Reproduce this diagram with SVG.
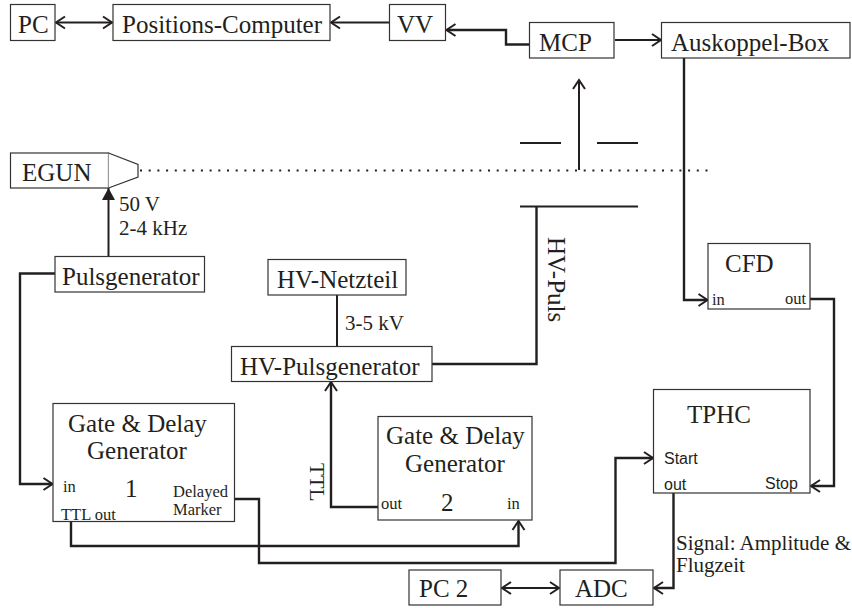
<svg xmlns="http://www.w3.org/2000/svg" width="852" height="608" viewBox="0 0 852 608">
<style>
text{font-family:"Liberation Serif","Times New Roman",serif;fill:#231f20;font-size:25px}
.b{fill:#fff;stroke:#333;stroke-width:1.2}
.s{font-size:16.500px}
.m{font-size:21px}
.a{font-family:"Liberation Sans",Arial,sans-serif;font-size:16px}
.c{fill:none;stroke:#231f20;stroke-width:2}
.t{fill:none;stroke:#231f20;stroke-width:2.4}
.d{fill:none;stroke:#231f20;stroke-width:2;stroke-dasharray:2 6.700}
</style>
<defs>
<marker id="o" markerUnits="userSpaceOnUse" markerWidth="14" markerHeight="16" refX="11" refY="7" orient="auto-start-reverse" viewBox="0 0 14 14"><path d="M2 1 L11 7 L2 13" fill="none" stroke="#231f20" stroke-width="2"/></marker>
<marker id="f" markerUnits="userSpaceOnUse" markerWidth="14" markerHeight="14" refX="12" refY="6.500" orient="auto" viewBox="0 0 14 13"><path d="M0 0 L12 6.500 L0 13 Z" fill="#231f20"/></marker>
</defs>
<g id="connectors">
<path class="c" d="M56 22.500H112" marker-start="url(#o)" marker-end="url(#o)"/>
<path class="c" d="M389 22.500H331" marker-end="url(#o)"/>
<path class="t" d="M529 44.500H506V30H446.500" marker-end="url(#o)"/>
<path class="c" d="M615 40H661" marker-end="url(#o)"/>
<path class="c" d="M579 170V80" marker-end="url(#o)"/>
<path class="d" d="M140 170.500H710"/>
<path class="c" d="M520 143H561M597 143H638M520 206.500H638"/>
<path class="c" d="M108.500 256V188" marker-end="url(#f)"/>
<path class="t" d="M55 273.500H20V484H52.500" marker-end="url(#o)"/>
<path class="c" d="M337 295V346"/>
<path class="t" d="M432 364H536.500V206.500"/>
<path class="t" d="M378 507H331V382" marker-end="url(#o)"/>
<path class="t" d="M71 522V546H518.500V521" marker-end="url(#o)"/>
<path class="t" d="M235 499H259V563H615.500V458H653" marker-end="url(#o)"/>
<path class="t" d="M684 58V300H707.500" marker-end="url(#o)"/>
<path class="t" d="M810 299H834V486H811" marker-end="url(#o)"/>
<path class="t" d="M673.500 493V588H654" marker-end="url(#o)"/>
<path class="c" d="M502 588H559" marker-start="url(#o)" marker-end="url(#o)"/>
</g>
<g id="pc"><rect class="b" x="10.500" y="4.500" width="44.500" height="36"/><text x="18" y="33">PC</text></g>
<g id="positions-computer"><rect class="b" x="113" y="4.500" width="217" height="36"/><text x="122" y="33">Positions-Computer</text></g>
<g id="vv"><rect class="b" x="389.500" y="4.500" width="56" height="36"/><text x="397" y="33">VV</text></g>
<g id="mcp"><rect class="b" x="529.500" y="22.500" width="84.500" height="35.500"/><text x="539" y="51">MCP</text></g>
<g id="auskoppel-box"><rect class="b" x="661.500" y="22.500" width="188.500" height="35.500"/><text x="671" y="51">Auskoppel-Box</text></g>
<g id="egun"><rect class="b" x="10.500" y="153" width="98" height="35"/><path class="b" d="M108.500 153L138 164.500V177L108.500 188"/><text x="22" y="181">EGUN</text></g>
<g id="pulsgenerator"><rect class="b" x="55" y="256.500" width="149.500" height="35.500"/><text x="62" y="285">Pulsgenerator</text></g>
<g id="hv-netzteil"><rect class="b" x="268" y="259.500" width="138" height="35.500"/><text x="277" y="288">HV-Netzteil</text></g>
<g id="hv-pulsgenerator"><rect class="b" x="231.500" y="346.500" width="200.500" height="35"/><text x="240" y="375">HV-Pulsgenerator</text></g>
<g id="gate-delay-1"><rect class="b" x="53" y="403.500" width="181.500" height="118"/>
<text x="68" y="432">Gate &amp; Delay</text><text x="87" y="459">Generator</text>
<text class="s" x="63" y="492">in</text><text x="125" y="497">1</text>
<text class="s" x="173" y="497">Delayed</text><text class="s" x="173" y="515">Marker</text><text class="s" x="61" y="520">TTL out</text></g>
<g id="gate-delay-2"><rect class="b" x="378" y="416.500" width="154" height="103.500"/>
<text x="386" y="444">Gate &amp; Delay</text><text x="405" y="472">Generator</text>
<text class="s" x="381" y="509">out</text><text x="441" y="511">2</text><text class="s" x="507" y="509">in</text></g>
<g id="tphc"><rect class="b" x="653.500" y="389.500" width="156.500" height="103.500"/>
<text x="687" y="423">TPHC</text><text class="a" x="664" y="464">Start</text><text class="a" x="664" y="490">out</text><text class="a" x="765" y="489">Stop</text></g>
<g id="cfd"><rect class="b" x="708" y="243.500" width="102" height="65.500"/>
<text x="725" y="272">CFD</text><text class="s" x="712" y="305">in</text><text class="s" x="785" y="304">out</text></g>
<g id="pc-2"><rect class="b" x="409" y="570" width="92" height="35"/><text x="419" y="597">PC 2</text></g>
<g id="adc"><rect class="b" x="560" y="570" width="93" height="35"/><text x="575" y="597">ADC</text></g>
<g id="labels">
<text class="m" x="119" y="211">50 V</text><text class="m" x="119" y="235">2-4 kHz</text>
<text class="m" x="345" y="330">3-5 kV</text>
<text class="m" x="676" y="550">Signal: Amplitude &amp;</text><text class="m" x="676" y="572">Flugzeit</text>
<text transform="translate(548 237) rotate(90)">HV-Puls</text>
<text class="m" transform="translate(310 463) rotate(90)">TTL</text>
</g>
</svg>
